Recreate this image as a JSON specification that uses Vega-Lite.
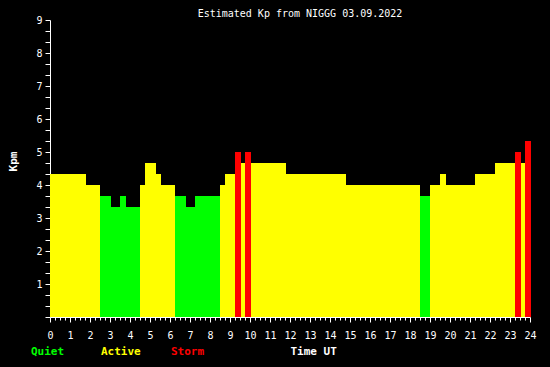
{
  "$schema": "https://vega.github.io/schema/vega-lite/v6.json",
  "width": 480,
  "height": 297,
  "autosize": {"type": "none"},
  "padding": {"left": 50, "top": 20, "right": 20, "bottom": 50},
  "background": "black",
  "title": {
    "text": "Estimated Kp from NIGGG 03.09.2022",
    "font": "DejaVu Sans Mono",
    "fontSize": 10,
    "fontWeight": "normal",
    "color": "white",
    "dx": 10,
    "offset": -4
  },
  "data": {
    "values": [
      {"start": 0, "end": 1.8, "kp": 4.333, "level": "Active"},
      {"start": 1.8, "end": 2.5, "kp": 4.0, "level": "Active"},
      {"start": 2.5, "end": 3.05, "kp": 3.667, "level": "Quiet"},
      {"start": 3.05, "end": 3.5, "kp": 3.333, "level": "Quiet"},
      {"start": 3.5, "end": 3.8, "kp": 3.667, "level": "Quiet"},
      {"start": 3.8, "end": 4.5, "kp": 3.333, "level": "Quiet"},
      {"start": 4.5, "end": 4.75, "kp": 4.0, "level": "Active"},
      {"start": 4.75, "end": 5.3, "kp": 4.667, "level": "Active"},
      {"start": 5.3, "end": 5.55, "kp": 4.333, "level": "Active"},
      {"start": 5.55, "end": 6.25, "kp": 4.0, "level": "Active"},
      {"start": 6.25, "end": 6.8, "kp": 3.667, "level": "Quiet"},
      {"start": 6.8, "end": 7.25, "kp": 3.333, "level": "Quiet"},
      {"start": 7.25, "end": 8.5, "kp": 3.667, "level": "Quiet"},
      {"start": 8.5, "end": 8.75, "kp": 4.0, "level": "Active"},
      {"start": 8.75, "end": 9.25, "kp": 4.333, "level": "Active"},
      {"start": 9.25, "end": 9.55, "kp": 5.0, "level": "Storm"},
      {"start": 9.55, "end": 9.75, "kp": 4.667, "level": "Active"},
      {"start": 9.75, "end": 10.05, "kp": 5.0, "level": "Storm"},
      {"start": 10.05, "end": 11.8, "kp": 4.667, "level": "Active"},
      {"start": 11.8, "end": 14.8, "kp": 4.333, "level": "Active"},
      {"start": 14.8, "end": 18.5, "kp": 4.0, "level": "Active"},
      {"start": 18.5, "end": 19.0, "kp": 3.667, "level": "Quiet"},
      {"start": 19.0, "end": 19.5, "kp": 4.0, "level": "Active"},
      {"start": 19.5, "end": 19.8, "kp": 4.333, "level": "Active"},
      {"start": 19.8, "end": 21.25, "kp": 4.0, "level": "Active"},
      {"start": 21.25, "end": 22.25, "kp": 4.333, "level": "Active"},
      {"start": 22.25, "end": 23.25, "kp": 4.667, "level": "Active"},
      {"start": 23.25, "end": 23.55, "kp": 5.0, "level": "Storm"},
      {"start": 23.55, "end": 23.75, "kp": 4.667, "level": "Active"},
      {"start": 23.75, "end": 24.05, "kp": 5.333, "level": "Storm"}
    ]
  },
  "mark": {"type": "rect", "strokeWidth": 0},
  "encoding": {
    "x": {
      "field": "start",
      "type": "quantitative",
      "scale": {"domain": [0, 24], "nice": false, "zero": false, "clamp": false},
      "axis": {
        "values": [0,0.25,0.5,0.75,1,1.25,1.5,1.75,2,2.25,2.5,2.75,3,3.25,3.5,3.75,4,4.25,4.5,4.75,5,5.25,5.5,5.75,6,6.25,6.5,6.75,7,7.25,7.5,7.75,8,8.25,8.5,8.75,9,9.25,9.5,9.75,10,10.25,10.5,10.75,11,11.25,11.5,11.75,12,12.25,12.5,12.75,13,13.25,13.5,13.75,14,14.25,14.5,14.75,15,15.25,15.5,15.75,16,16.25,16.5,16.75,17,17.25,17.5,17.75,18,18.25,18.5,18.75,19,19.25,19.5,19.75,20,20.25,20.5,20.75,21,21.25,21.5,21.75,22,22.25,22.5,22.75,23,23.25,23.5,23.75,24],
        "labelExpr": "datum.value % 1 == 0 ? format(datum.value, 'd') : ''",
        "tickSize": {"condition": {"test": "datum.value % 1 == 0", "value": 5}, "value": 3},
        "labelPadding": 8,
        "labelOverlap": false,
        "labelFlush": false,
        "title": "Time UT",
        "titleAnchor": "start",
        "titleAlign": "left",
        "titleBaseline": "middle",
        "titleX": 240,
        "titleY": 34
      }
    },
    "x2": {"field": "end"},
    "y": {
      "field": "kp",
      "type": "quantitative",
      "scale": {"domain": [0, 9], "nice": false},
      "axis": {
        "values": [0,0.3333,0.6667,1,1.3333,1.6667,2,2.3333,2.6667,3,3.3333,3.6667,4,4.3333,4.6667,5,5.3333,5.6667,6,6.3333,6.6667,7,7.3333,7.6667,8,8.3333,8.6667,9],
        "labelExpr": "abs(datum.value - round(datum.value)) < 0.01 && datum.value > 0 ? format(datum.value, 'd') : ''",
        "tickSize": 5,
        "labelPadding": 3,
        "labelOverlap": false,
        "labelFlush": false,
        "title": "Kpm",
        "titleAngle": -90,
        "titleAlign": "center",
        "titleBaseline": "middle",
        "titleX": -37,
        "titleY": 141
      }
    },
    "y2": {"datum": 0},
    "color": {
      "field": "level",
      "type": "nominal",
      "scale": {"domain": ["Quiet", "Active", "Storm"], "range": ["#00ff00", "#ffff00", "#ff0000"]},
      "legend": {
        "title": null,
        "orient": "none",
        "legendX": -30,
        "legendY": 326,
        "direction": "horizontal",
        "columns": 3,
        "gridAlign": "all",
        "columnPadding": 19,
        "symbolSize": 0,
        "symbolOpacity": 0,
        "symbolStrokeWidth": 0,
        "labelOffset": 0,
        "labelFont": "DejaVu Sans Mono",
        "labelFontSize": 11,
        "labelFontWeight": "bold",
        "encode": {
          "labels": {
            "update": {"fill": {"signal": "scale('color', datum.value)"}}
          }
        }
      }
    }
  },
  "config": {
    "view": {"stroke": null},
    "axis": {
      "domainColor": "white",
      "tickColor": "white",
      "labelColor": "white",
      "titleColor": "white",
      "grid": false,
      "domainWidth": 1,
      "tickWidth": 1,
      "labelFont": "DejaVu Sans Mono",
      "labelFontSize": 10,
      "titleFont": "DejaVu Sans Mono",
      "titleFontSize": 11,
      "titleFontWeight": "bold"
    }
  }
}
